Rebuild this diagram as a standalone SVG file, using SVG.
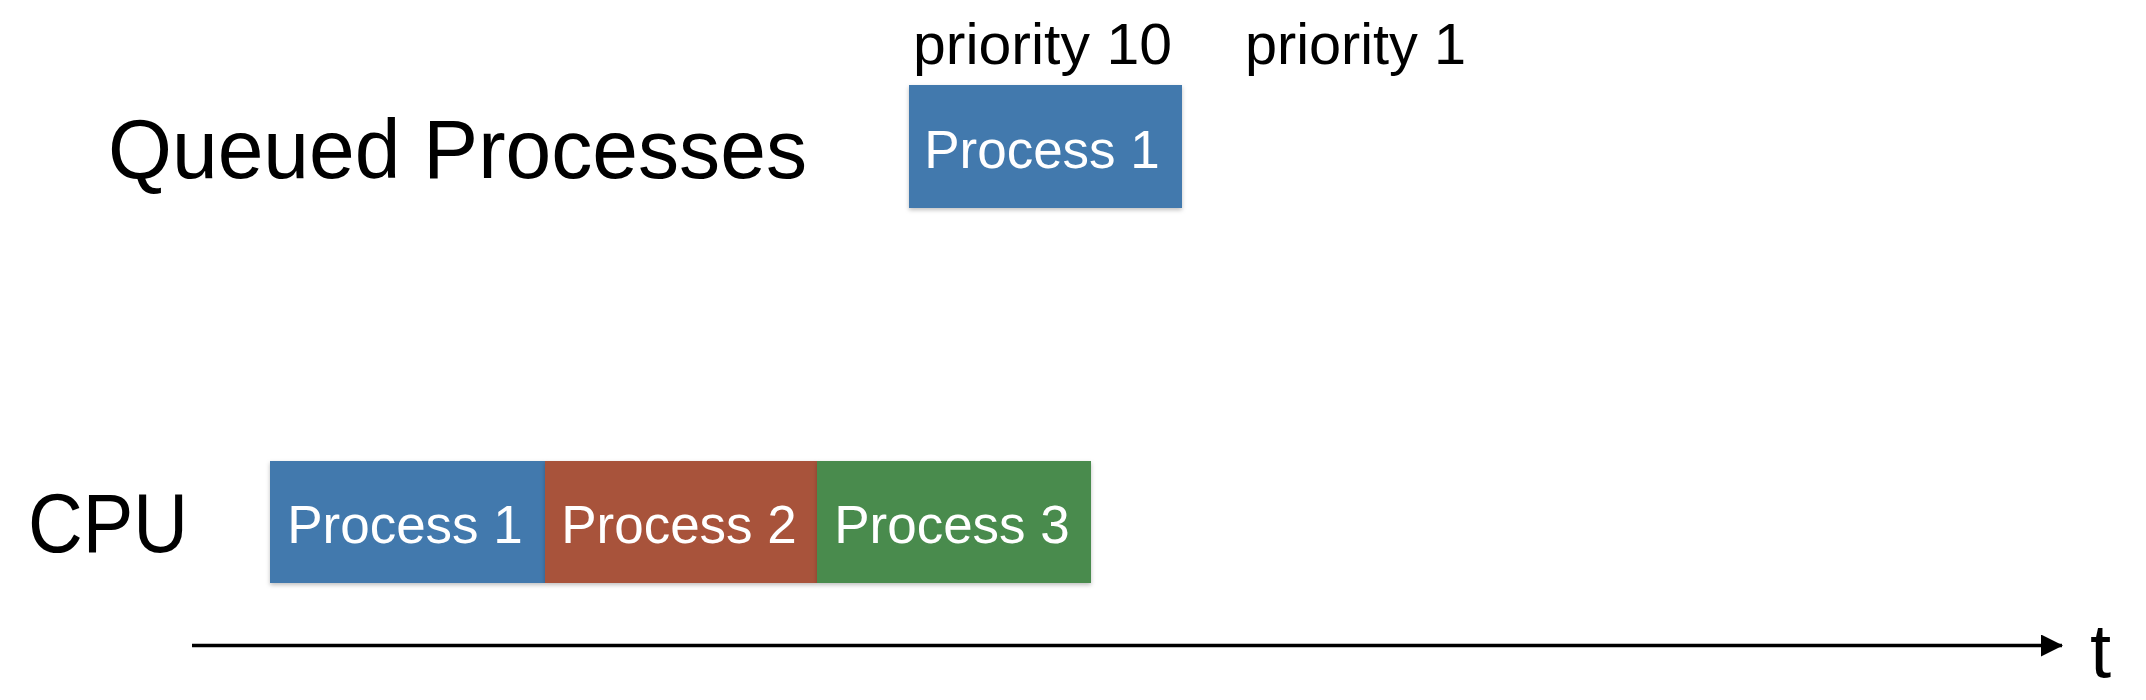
<svg xmlns="http://www.w3.org/2000/svg" width="2146" height="700" viewBox="0 0 2146 700">
  <style>
    .lbl { font-family: "Liberation Sans", Arial, sans-serif; fill: #000000; }
    .big { font-size: 83px; }
    .pri { font-size: 58px; }
    .box-text { font-family: "Liberation Sans", Arial, sans-serif; font-size: 53px; fill: #ffffff; text-anchor: middle; }
    .blue { fill: #4379ad; }
    .red { fill: #a8533a; }
    .green { fill: #4a8b4d; }
  </style>
  <defs>
    <filter id="shadow" x="-5%" y="-5%" width="110%" height="120%">
      <feDropShadow dx="0" dy="2" stdDeviation="2" flood-color="#000000" flood-opacity="0.25"/>
    </filter>
    <marker id="arrow" viewBox="0 0 22 22" refX="21" refY="11" markerWidth="22" markerHeight="22" markerUnits="userSpaceOnUse" orient="auto">
      <path d="M0,0 L22,11 L0,22 Z" fill="#000000"/>
    </marker>
  </defs>
  <rect width="2146" height="700" fill="#ffffff"/>

  <g id="label-queued">
    <text class="lbl big" x="108" y="178" textLength="699" lengthAdjust="spacingAndGlyphs">Queued Processes</text>
  </g>
  <g id="label-priority10">
    <text class="lbl pri" x="913" y="64" textLength="259" lengthAdjust="spacingAndGlyphs">priority 10</text>
  </g>
  <g id="label-priority1">
    <text class="lbl pri" x="1245" y="64" textLength="221" lengthAdjust="spacingAndGlyphs">priority 1</text>
  </g>
  <g id="label-cpu">
    <text class="lbl big" x="28" y="552" textLength="160" lengthAdjust="spacingAndGlyphs">CPU</text>
  </g>

  <g id="queue-process1">
    <rect class="blue" x="909" y="85" width="273" height="123" filter="url(#shadow)"/>
    <text class="box-text" x="1042" y="168">Process 1</text>
  </g>

  <g id="cpu-process1">
    <rect class="blue" x="270" y="461" width="275" height="122" filter="url(#shadow)"/>
    <text class="box-text" x="405" y="543">Process 1</text>
  </g>
  <g id="cpu-process2">
    <rect class="red" x="545" y="461" width="272" height="122" filter="url(#shadow)"/>
    <text class="box-text" x="679" y="543">Process 2</text>
  </g>
  <g id="cpu-process3">
    <rect class="green" x="817" y="461" width="274" height="122" filter="url(#shadow)"/>
    <text class="box-text" x="952" y="543">Process 3</text>
  </g>

  <g id="connectors">
    <line x1="192" y1="645.5" x2="2062" y2="645.5" stroke="#000000" stroke-width="3.5" marker-end="url(#arrow)"/>
  </g>

  <g id="label-t">
    <text class="lbl" x="2090" y="677" font-size="76">t</text>
  </g>
</svg>
